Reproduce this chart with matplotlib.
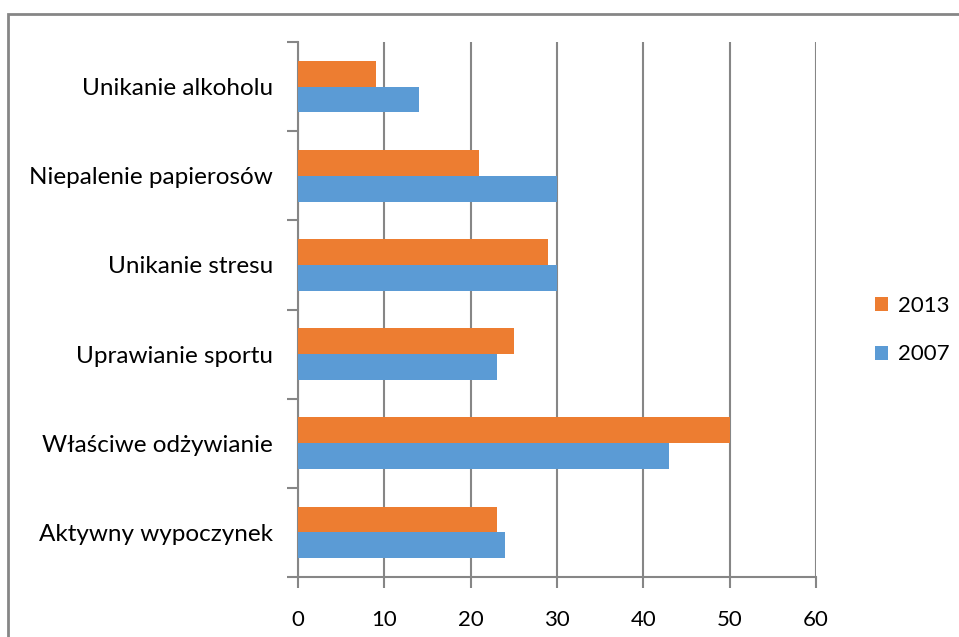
import matplotlib
matplotlib.use("Agg")
import matplotlib.pyplot as plt
import numpy as np
from matplotlib.patches import Rectangle

categories = ["Aktywny wypoczynek", "Właściwe odżywianie", "Uprawianie sportu",
              "Unikanie stresu", "Niepalenie papierosów", "Unikanie alkoholu"]
values_2013 = [23, 50, 25, 29, 21, 9]
values_2007 = [24, 43, 23, 30, 30, 14]
series_names = ["2013", "2007"]
xticks = [0, 10, 20, 30, 40, 50, 60]

plt.rcParams['font.family'] = ['Lato', 'DejaVu Sans']

fig = plt.figure(figsize=(9.59, 6.37), dpi=100)
ax = fig.add_axes([298/959, 1-577/637, (816-298)/959, (577-42)/637])

c13 = "#ED7D31"
c07 = "#5B9BD5"
h = 0.29
y = np.arange(len(categories))
ax.barh(y + h/2, values_2013, height=h, color=c13, label=series_names[0], zorder=3)
ax.barh(y - h/2, values_2007, height=h, color=c07, label=series_names[1], zorder=3)

ax.set_xlim(0, 60)
ax.set_ylim(-0.5, len(categories) - 0.5)
ax.set_xticks(xticks)
ax.set_xticklabels([str(t) for t in xticks], fontsize=16)
ax.set_yticks(y)
ax.set_yticklabels(categories, fontsize=17.5)
ax.set_yticks(np.arange(-0.5, len(categories), 1), minor=True)
ax.tick_params(axis='y', which='major', length=0, pad=18)
ax.tick_params(axis='y', which='minor', length=8, width=1.5, color="#868686", direction='out')
ax.tick_params(axis='x', which='major', length=8, width=1.5, color="#868686", pad=16)

ax.grid(axis='x', color="#868686", linewidth=1.5, zorder=0)
for s in ['top', 'right']:
    ax.spines[s].set_visible(False)
for s in ['left', 'bottom']:
    ax.spines[s].set_color("#868686")
    ax.spines[s].set_linewidth(1.5)

handles, labels = ax.get_legend_handles_labels()
leg = fig.legend(handles, labels, loc='center left', bbox_to_anchor=(855/959, 1-330/637),
                 frameon=False, fontsize=16, handlelength=0.6, handleheight=0.6,
                 labelspacing=1.3, handletextpad=0.45)

fig.patches.append(Rectangle((7.5/959, -0.1), 1.2, 1 - 13.5/637 + 0.1,
                             transform=fig.transFigure, fill=False,
                             edgecolor="#868686", linewidth=2))

fig.savefig("out.png", dpi=100)
